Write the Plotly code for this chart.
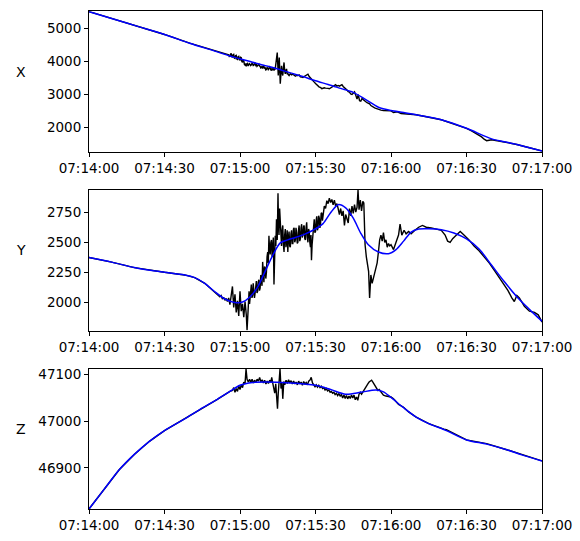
import pandas as pd
import plotly.graph_objects as go
from plotly.subplots import make_subplots

# ---- data: (seconds after 07:14:00, value) ----
x_raw = [(0, 5497), (10, 5265), (20, 5035), (30, 4805), (40, 4540), (50, 4300),
         (55.5, 4190), (55.75, 4140), (56.0, 4150), (56.25, 4200), (56.5, 4235), (56.75, 4130), (57.0, 4110),
         (57.25, 4190), (57.5, 4200), (57.75, 4090), (58.0, 4080), (58.25, 4160), (58.5, 4170), (58.75, 4060),
         (59.0, 4050), (59.25, 4130), (59.5, 4140), (59.75, 4040), (60.0, 4030), (60.25, 4110), (60.5, 4100),
         (60.75, 3980), (61.0, 3960), (61.25, 4040), (61.5, 4010), (61.75, 3900), (62.0, 3880), (62.25, 3920),
         (62.5, 3840), (62.75, 3920), (63.0, 3930), (63.25, 3850), (63.5, 3870), (63.75, 3920), (64.0, 3900),
         (64.25, 3860), (64.5, 3880), (64.75, 3930), (65.0, 3910), (65.25, 3860), (65.5, 3870), (65.75, 3920),
         (66.0, 3935), (66.25, 3870), (66.5, 3890), (66.75, 3840), (67.0, 3860), (67.25, 3910), (67.5, 3905),
         (67.75, 3850), (68.0, 3840), (68.25, 3790), (68.5, 3800), (68.75, 3850), (69.0, 3770), (69.25, 3820),
         (69.5, 3840), (69.75, 3770), (70.0, 3790), (70.25, 3730), (70.5, 3740), (70.75, 3800), (71.0, 3790),
         (71.25, 3740), (71.5, 3760), (71.75, 3820), (72.0, 3800), (72.25, 3730), (72.5, 3710), (72.75, 3780),
         (73.0, 3760), (73.25, 3720), (73.5, 3800), (73.75, 3740), (74.0, 3760), (74.4, 3960), (74.8, 4255),
         (75.2, 3560), (75.6, 4106), (76.0, 3312), (76.5, 3858), (76.75, 3640), (77.0, 3560), (77.25, 3800),
         (77.5, 3957), (77.75, 3700), (78.0, 3610), (78.25, 3720), (78.5, 3760), (78.75, 3600), (79.0, 3620),
         (79.25, 3580), (79.5, 3560), (80.0, 3620), (80.5, 3580), (81.0, 3600), (81.5, 3560), (82.0, 3540),
         (82.5, 3570), (83.0, 3560), (83.5, 3580), (84.0, 3520), (84.5, 3510), (85.0, 3500), (85.5, 3530),
         (86.0, 3560), (86.5, 3590), (87.0, 3600), (87.5, 3530), (88.0, 3480), (88.5, 3430), (89.0, 3410),
         (89.5, 3360), (90.0, 3320), (90.5, 3280), (91.0, 3250), (91.5, 3210), (92.0, 3200), (92.5, 3160),
         (93.0, 3175), (93.5, 3190), (94.0, 3180), (94.5, 3165), (95.0, 3170), (95.5, 3160), (96.0, 3190),
         (96.5, 3215), (97.0, 3240), (97.5, 3260), (98.0, 3285), (98.5, 3240), (99.0, 3260), (99.5, 3240),
         (100.0, 3275), (100.5, 3285), (101.0, 3230), (101.5, 3200), (102.0, 3160), (102.5, 3120), (103.0, 3070),
         (103.5, 3060), (104.0, 3000), (104.5, 2985), (105.0, 3020), (105.5, 3064), (106.0, 2960), (106.5, 2845),
         (107.0, 2984), (107.5, 2800), (108.0, 2785), (108.5, 2865), (109.0, 2830), (109.5, 2780), (110.0, 2766),
         (110.5, 2740), (111.0, 2720), (111.5, 2700), (112.0, 2650), (112.5, 2620), (113.0, 2600), (113.5, 2580),
         (114.0, 2567), (114.5, 2550), (115.0, 2530), (115.5, 2520), (116.0, 2510), (117.0, 2500), (118.0, 2490),
         (119.0, 2480), (120.0, 2490), (121.0, 2440), (122.5, 2460), (124.0, 2410), (126.0, 2400), (128.0, 2390),
         (130, 2370), (140, 2220), (150, 1960), (152, 1880), (154, 1800), (156, 1700), (157, 1630), (158, 1585),
         (159, 1600), (160, 1615), (165, 1545), (170, 1470), (175, 1370), (180, 1275)]
x_fit = [(0, 5497), (10, 5265), (20, 5035), (30, 4805), (40, 4540), (50, 4300), (56, 4150), (60, 4070),
         (65, 3960), (70, 3860), (75, 3760), (80, 3640), (85, 3530), (90, 3400), (95, 3290), (100, 3170),
         (105, 3050), (110, 2830), (115, 2600), (120, 2500), (125, 2440), (130, 2370), (140, 2220), (150, 1960),
         (160, 1640), (165, 1555), (170, 1470), (175, 1370), (180, 1275)]

y_raw = [(0, 2374), (9, 2336), (18, 2291), (25, 2266), (30, 2252), (38, 2230), (42, 2208), (46, 2161),
         (50, 2091), (52.0, 2050), (52.5, 2060), (53.0, 2030), (53.5, 2045), (54.0, 2020), (54.5, 2035),
         (55.0, 2010), (55.5, 2040), (56.0, 1985), (56.5, 2060), (57.0, 2135), (57.5, 1960), (58.0, 2070),
         (58.5, 1920), (59.0, 2015), (59.5, 1890), (60.0, 2095), (60.5, 1930), (61.0, 1990), (61.5, 1880),
         (62.0, 2010), (62.5, 1900), (62.8, 1772), (63.2, 1930), (63.4, 2040), (63.6, 2095), (63.8, 1990),
         (64.0, 2030), (64.25, 2110), (64.5, 2150), (64.75, 2040), (65.0, 2060), (65.25, 2160), (65.5, 2120),
         (65.75, 2040), (66.0, 2080), (66.25, 2150), (66.5, 2180), (66.75, 2080), (67.0, 2095), (67.25, 2170),
         (67.5, 2190), (67.75, 2100), (68.0, 2120), (68.25, 2230), (68.5, 2200), (68.75, 2140), (69.0, 2338),
         (69.25, 2210), (69.5, 2170), (69.75, 2300), (70.0, 2290), (70.25, 2200), (70.5, 2250), (70.75, 2380),
         (71.0, 2420), (71.25, 2330), (71.5, 2555), (71.75, 2440), (72.0, 2400), (72.25, 2500), (72.5, 2520),
         (72.75, 2380), (73.0, 2460), (73.25, 2540), (73.5, 2150), (73.75, 2450), (74.0, 2555), (74.25, 2470),
         (74.5, 2690), (74.8, 2520), (75.1, 2907), (75.3, 2640), (75.5, 2560), (75.75, 2780), (76.0, 2700),
         (76.25, 2560), (76.5, 2470), (76.75, 2600), (77.0, 2640), (77.25, 2480), (77.5, 2420), (77.75, 2560),
         (78.0, 2610), (78.25, 2460), (78.5, 2500), (78.75, 2600), (79.0, 2420), (79.25, 2540), (79.5, 2590),
         (79.75, 2470), (80.0, 2460), (80.25, 2570), (80.5, 2600), (80.75, 2490), (81.0, 2490), (81.25, 2610),
         (81.5, 2620), (81.75, 2500), (82.0, 2520), (82.25, 2620), (82.5, 2580), (82.75, 2490), (83.0, 2500),
         (83.25, 2600), (83.5, 2640), (83.75, 2510), (84.0, 2530), (84.25, 2620), (84.5, 2650), (84.75, 2540),
         (85.0, 2560), (85.25, 2630), (85.5, 2640), (85.75, 2530), (86.0, 2520), (86.25, 2620), (86.5, 2665),
         (86.75, 2540), (87.0, 2500), (87.25, 2610), (87.5, 2590), (87.75, 2500), (88.0, 2460), (88.2, 2560),
         (88.4, 2352), (88.65, 2480), (88.9, 2560), (89.2, 2640), (89.5, 2690), (89.75, 2580), (90.0, 2590),
         (90.25, 2680), (90.5, 2715), (90.75, 2600), (91.0, 2620), (91.25, 2720), (91.5, 2700), (91.75, 2620),
         (92.0, 2650), (92.25, 2740), (92.5, 2745), (92.75, 2680), (93.0, 2720), (93.5, 2800), (94.0, 2780),
         (94.5, 2845), (95.0, 2820), (95.5, 2866), (96.0, 2830), (96.5, 2855), (97.0, 2810), (97.5, 2850),
         (98.0, 2800), (98.5, 2820), (99.0, 2780), (99.5, 2730), (100.0, 2780), (100.5, 2720), (101.0, 2760),
         (101.5, 2640), (102.0, 2730), (102.5, 2690), (103.0, 2660), (103.5, 2780), (104.0, 2720), (104.5, 2800),
         (105.0, 2740), (105.5, 2812), (106.0, 2750), (106.5, 2790), (106.9, 2932), (107.3, 2770), (107.8, 2850),
         (108.3, 2760), (108.8, 2840), (109.2, 2826), (109.7, 2480), (110.2, 2380), (110.7, 2300), (111.1, 2260),
         (111.5, 2040), (112.0, 2230), (112.5, 2160), (113.0, 2200), (113.5, 2240), (114.0, 2280), (114.5, 2330),
         (115.0, 2420), (115.5, 2520), (116.0, 2560), (116.5, 2510), (117.0, 2580), (117.5, 2500), (118.0, 2520),
         (118.5, 2460), (119.0, 2490), (119.5, 2470), (120.0, 2480), (121.0, 2440), (122.0, 2500), (123.0, 2560),
         (123.6, 2650), (124.3, 2560), (125.2, 2600), (126.0, 2570), (127.0, 2590), (128.0, 2570), (129.5, 2600),
         (131.0, 2625), (132.5, 2640), (134.0, 2625), (136.0, 2620), (138.0, 2610), (140.0, 2600), (141.5, 2560),
         (142.5, 2510), (143.5, 2500), (144.5, 2530), (146.0, 2560), (147.5, 2590), (149.0, 2560), (151.0, 2520),
         (153.0, 2470), (155.0, 2430), (157.0, 2380), (159.0, 2330), (161.0, 2270), (163.0, 2210), (165.0, 2150),
         (166.5, 2100), (168.0, 2040), (169.0, 2010), (170.0, 2060), (171.0, 2040), (173.0, 1970), (175.0, 1930),
         (177.0, 1920), (178.5, 1900), (180.0, 1840)]
y_fit = [(0, 2374), (9, 2336), (18, 2291), (25, 2266), (30, 2252), (38, 2230), (42, 2208), (46, 2161),
         (50, 2091), (54, 2031), (58, 2002), (61, 2006), (64, 2050), (67, 2130), (70, 2260), (73, 2392),
         (76, 2495), (79, 2520), (82, 2540), (86, 2570), (89, 2600), (93, 2655), (96, 2745), (99, 2812),
         (102, 2785), (105, 2700), (108, 2575), (111, 2480), (115, 2420), (119, 2406), (122, 2440), (125, 2510),
         (128, 2585), (131, 2610), (135, 2612), (140, 2604), (145, 2577), (150, 2528), (155, 2445), (160, 2310),
         (165, 2175), (170, 2050), (175, 1945), (180, 1846)]

z_raw = [(0, 46812), (6, 46854), (12, 46896), (18, 46929), (24, 46957), (30, 46980), (38, 47005), (44, 47025),
         (51, 47047), (56, 47064), (57.0, 47066), (57.5, 47072), (58.0, 47062), (58.5, 47070), (59.0, 47064),
         (59.5, 47076), (60.0, 47068), (60.5, 47078), (61.0, 47072), (61.5, 47084), (62.0, 47080), (62.4, 47112),
         (62.8, 47090), (63.3, 47084), (63.8, 47090), (64.3, 47083), (64.8, 47090), (65.3, 47082), (65.8, 47088),
         (66.3, 47083), (66.8, 47090), (67.3, 47086), (67.8, 47094), (68.3, 47084), (68.8, 47089), (69.3, 47082),
         (69.8, 47088), (70.3, 47080), (70.8, 47086), (71.3, 47081), (71.8, 47088), (72.3, 47084), (72.6, 47094),
         (73.0, 47082), (73.4, 47072), (73.8, 47060), (74.2, 47080), (74.6, 47045), (74.9, 47027), (75.2, 47060),
         (75.5, 47080), (75.9, 47112), (76.3, 47070), (76.7, 47082), (77.0, 47048), (77.4, 47085), (77.8, 47078),
         (78.3, 47088), (78.8, 47081), (79.3, 47089), (79.8, 47082), (80.3, 47087), (80.8, 47080), (81.3, 47086),
         (81.8, 47080), (82.3, 47084), (82.8, 47078), (83.3, 47086), (83.8, 47080), (84.3, 47084), (84.8, 47077),
         (85.3, 47085), (85.8, 47080), (86.3, 47083), (86.8, 47078), (87.3, 47086), (87.8, 47088), (88.3, 47094),
         (88.8, 47082), (89.3, 47078), (89.8, 47074), (90.3, 47078), (90.8, 47073), (91.3, 47077), (91.8, 47072),
         (92.3, 47075), (92.8, 47070), (93.3, 47072), (93.8, 47067), (94.3, 47070), (94.8, 47065), (95.3, 47067),
         (95.8, 47062), (96.3, 47064), (96.8, 47060), (97.3, 47062), (97.8, 47057), (98.3, 47060), (98.8, 47055),
         (99.3, 47059), (99.8, 47054), (100.3, 47057), (100.8, 47050), (101.3, 47056), (101.8, 47049),
         (102.3, 47055), (102.8, 47048), (103.3, 47054), (103.8, 47049), (104.3, 47056), (104.8, 47050),
         (105.3, 47056), (105.8, 47046), (106.3, 47052), (106.8, 47045), (107.3, 47058), (107.8, 47062),
         (108.3, 47058), (108.8, 47063), (109.3, 47066), (109.8, 47070), (110.3, 47076), (110.8, 47080),
         (111.3, 47084), (111.8, 47086), (112.3, 47088), (112.8, 47084), (113.3, 47080), (113.8, 47076),
         (114.3, 47072), (114.8, 47066), (115.3, 47068), (116.0, 47062), (117.0, 47056), (118.0, 47054),
         (119.0, 47053), (120.0, 47052), (121, 47048), (123, 47036), (125, 47030), (127, 47020), (130, 47009),
         (135, 46995), (141, 46983), (142, 46982), (150, 46960), (158, 46952), (166, 46939), (172, 46928),
         (180, 46915)]
z_fit = [(0, 46812), (6, 46854), (12, 46896), (18, 46929), (24, 46957), (30, 46980), (38, 47005), (44, 47025),
         (51, 47047), (56, 47064), (60, 47077), (65, 47083), (70, 47084), (80, 47082), (90, 47077), (96, 47068),
         (102, 47058), (108, 47062), (114, 47067), (117, 47063), (120, 47051), (125, 47029), (130, 47009),
         (135, 46995), (142, 46980), (150, 46960), (158, 46951), (166, 46939), (172, 46928), (180, 46915)]

axis_names = ["X", "Y", "Z"]
y_ranges = [[1242, 5507], [1770, 2935], [46812, 47112]]
y_ticks = [[2000, 3000, 4000, 5000], [2000, 2250, 2500, 2750], [46900, 47000, 47100]]
time_ticks = ["07:14:00", "07:14:30", "07:15:00", "07:15:30", "07:16:00", "07:16:30", "07:17:00"]

base = pd.Timestamp("2024-01-01 07:14:00")


def split(pairs):
    ts = [p[0] for p in pairs]
    vs = [p[1] for p in pairs]
    return base + pd.to_timedelta(pd.Series(ts, dtype=float), unit="s"), vs


W, H = 580, 541
ml, mr, mt, mb = 89, 37, 8, 28
ph = H - mt - mb


def dom(top_px, bot_px):
    lo = max(0.0, (H - mb - bot_px) / ph)
    hi = min(1.0, (H - mb - top_px) / ph)
    return [lo, hi]


fig = make_subplots(rows=3, cols=1)
series = [(x_raw, x_fit), (y_raw, y_fit), (z_raw, z_fit)]
for i, (raw, fit) in enumerate(series, start=1):
    rx, ry = split(raw)
    fx, fy = split(fit)
    fig.add_trace(go.Scatter(x=rx, y=ry, mode="lines", line=dict(color="black", width=1.4),
                             showlegend=False, hoverinfo="skip"), row=i, col=1)
    fig.add_trace(go.Scatter(x=fx, y=fy, mode="lines",
                             line=dict(color="#0000ff", width=1.5, shape="spline", smoothing=0.8),
                             showlegend=False, hoverinfo="skip"), row=i, col=1)

domains = [dom(8.3, 151), dom(189.3, 332), dom(371, 513)]
tick_dt = [base + pd.Timedelta(seconds=30 * k) for k in range(7)]
font = dict(family="DejaVu Sans", size=13.5, color="black")
for i in range(3):
    sx = "xaxis" if i == 0 else f"xaxis{i + 1}"
    sy = "yaxis" if i == 0 else f"yaxis{i + 1}"
    fig.layout[sx].update(domain=[0, 1], range=[base, base + pd.Timedelta(seconds=180)],
                          tickvals=tick_dt, ticktext=time_ticks, showline=True, mirror=True,
                          linecolor="black", linewidth=1, ticks="outside", ticklen=4, tickcolor="black",
                          showgrid=False, zeroline=False, tickfont=font)
    fig.layout[sy].update(domain=domains[i], range=y_ranges[i], tickvals=y_ticks[i],
                          ticktext=[str(v) for v in y_ticks[i]], showline=True,
                          mirror=True, linecolor="black", linewidth=1, ticks="outside", ticklen=4,
                          tickcolor="black", showgrid=False, zeroline=False, tickfont=font)
    fig.add_annotation(text=axis_names[i], xref="paper", x=0, xshift=-68, xanchor="center",
                       yref=("y domain" if i == 0 else f"y{i + 1} domain"), y=0.5, yanchor="bottom",
                       showarrow=False, font=dict(family="DejaVu Sans", size=14, color="black"))

fig.update_layout(width=W, height=H, margin=dict(l=ml, r=mr, t=mt, b=mb),
                  plot_bgcolor="white", paper_bgcolor="white")
fig.write_html("out.html")
